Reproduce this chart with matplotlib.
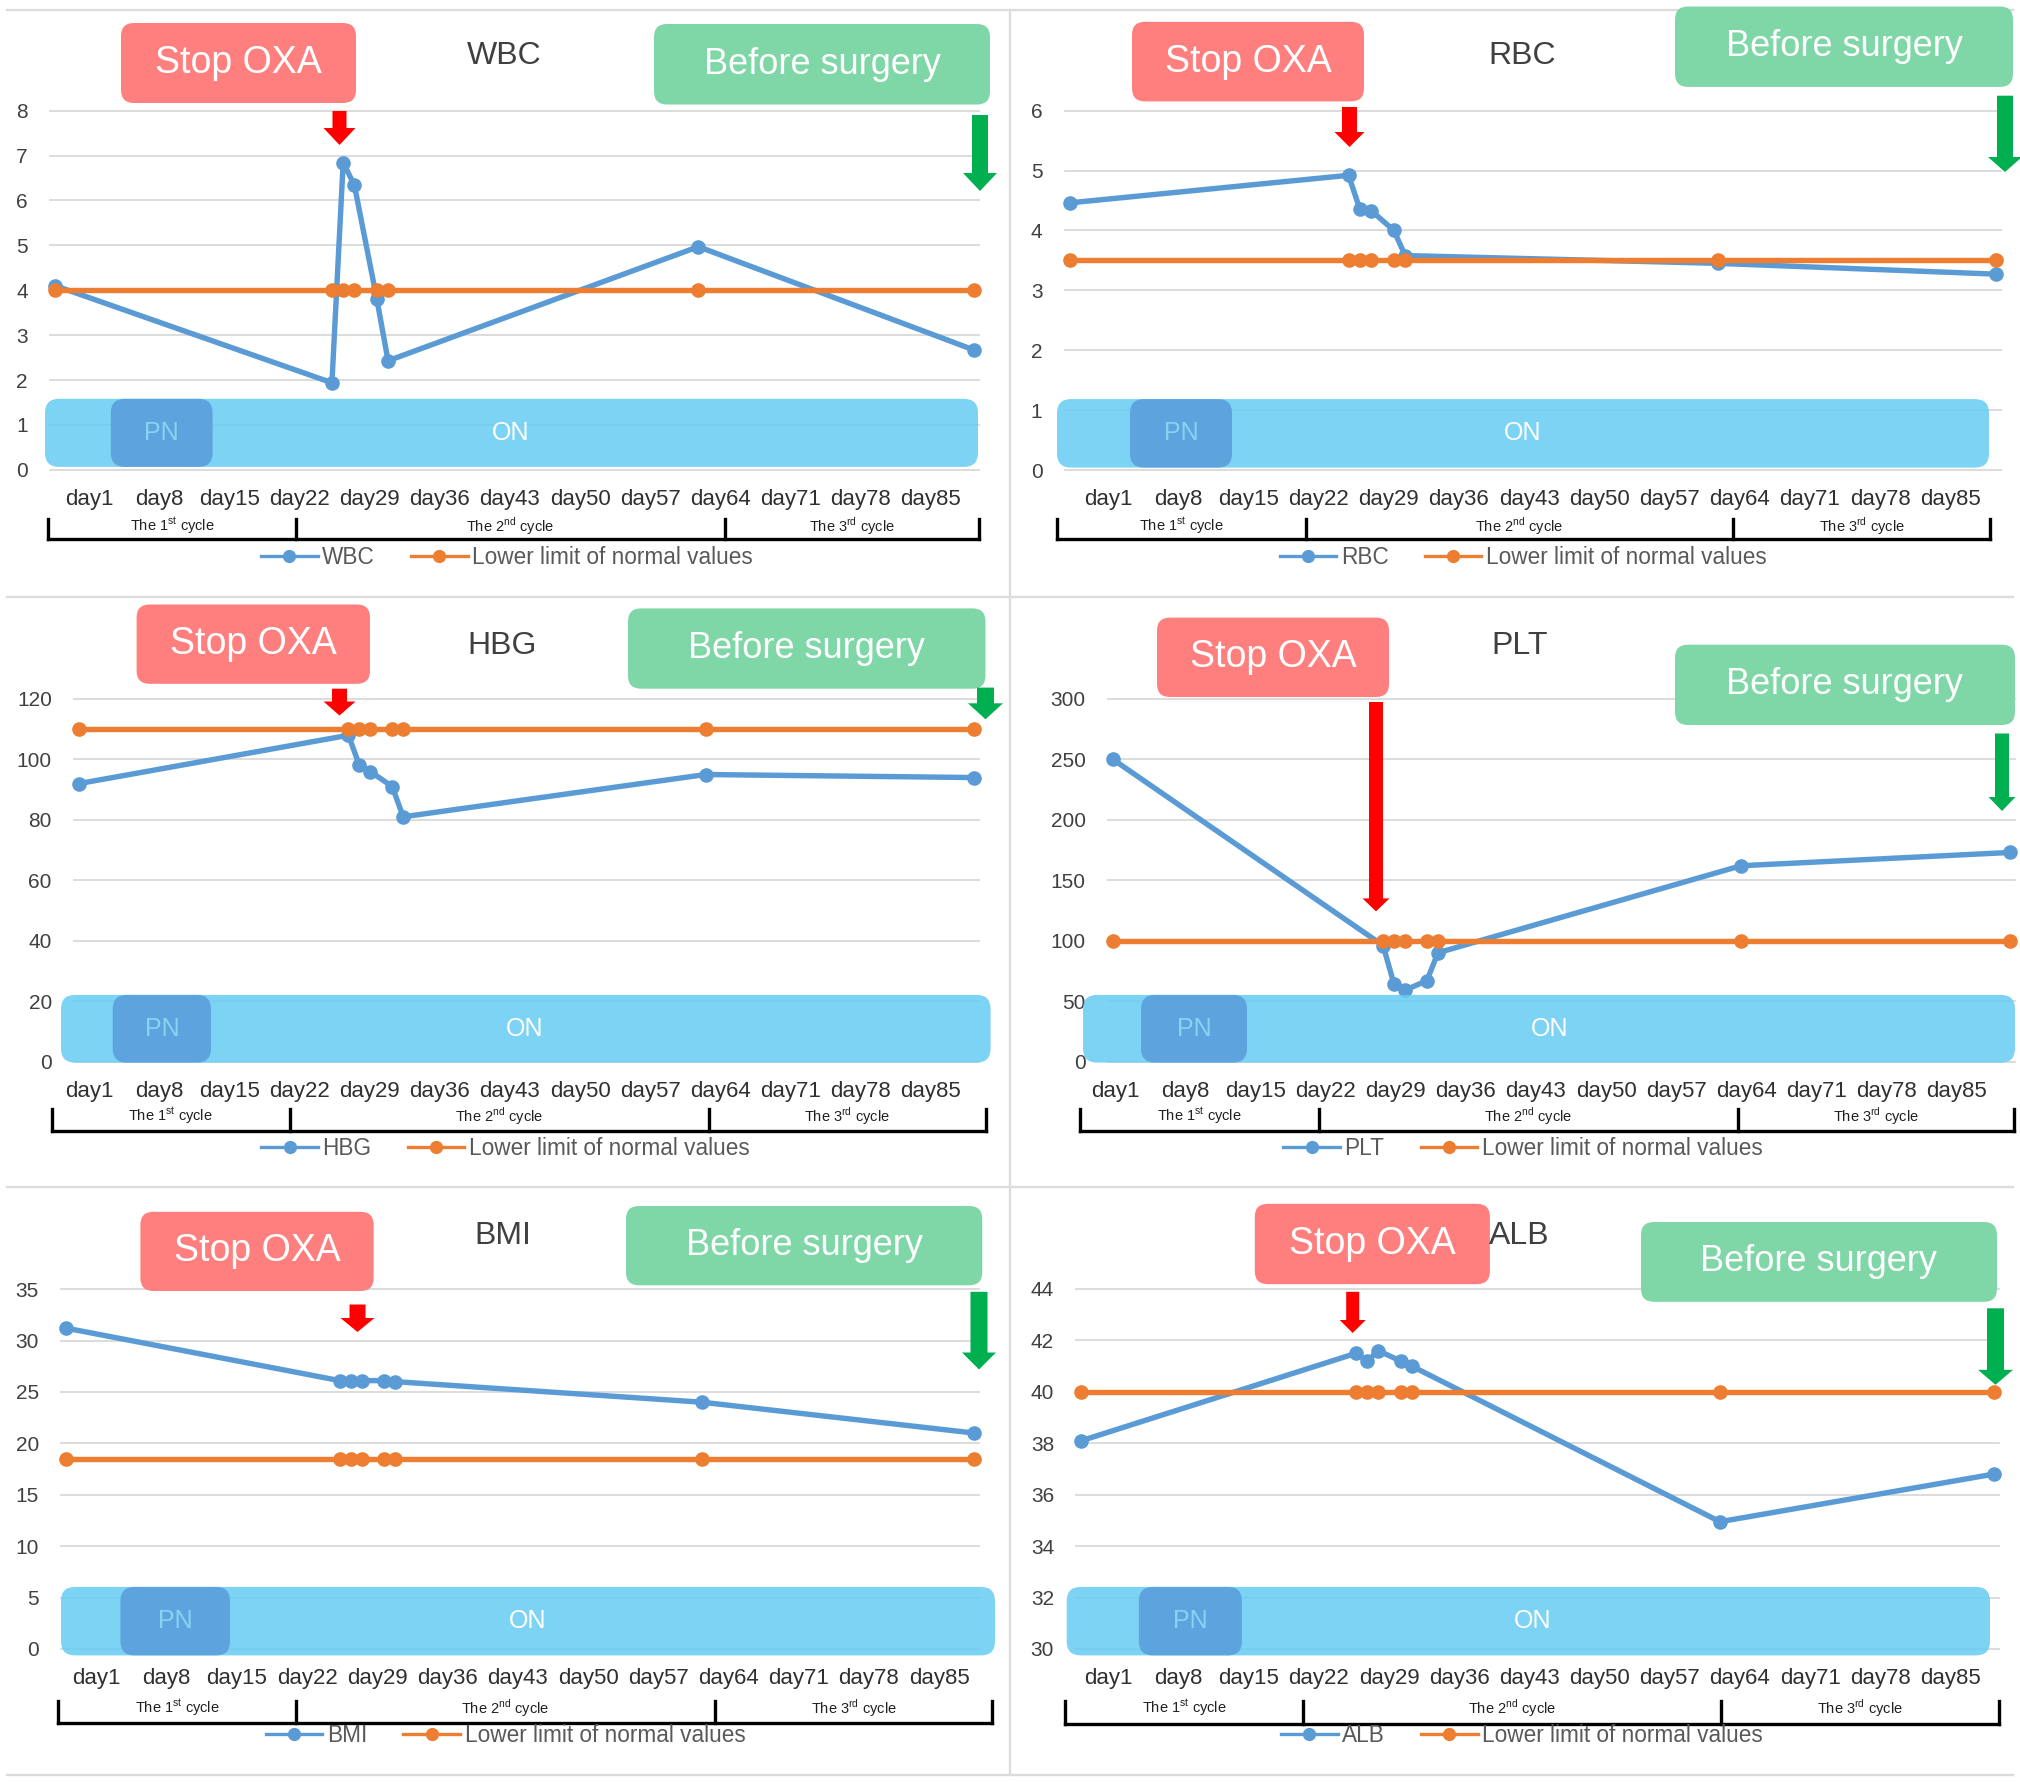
import matplotlib
matplotlib.use("Agg")
import matplotlib.pyplot as plt
from matplotlib.patches import FancyBboxPatch, Polygon
from matplotlib.lines import Line2D
from matplotlib.transforms import IdentityTransform

W, H, DPI = 2020, 1782, 100

plt.rcParams['font.family'] = ['Liberation Sans', 'DejaVu Sans']
plt.rcParams['mathtext.fontset'] = 'custom'
plt.rcParams['mathtext.rm'] = 'Liberation Sans'

# ---- data ----
days = [1, 28.1, 29.2, 30.3, 32.5, 33.6, 64, 91]
day_labels = ['day1', 'day8', 'day15', 'day22', 'day29', 'day36', 'day43',
              'day50', 'day57', 'day64', 'day71', 'day78', 'day85']
cycle_labels = [r'The 1$^{\mathrm{st}}$ cycle', r'The 2$^{\mathrm{nd}}$ cycle',
                r'The 3$^{\mathrm{rd}}$ cycle']

wbc = [4.1, 1.94, 6.84, 6.34, 3.8, 2.43, 4.97, 2.67]
wbc_low = [4, 4, 4, 4, 4, 4, 4, 4]
rbc = [4.46, 4.92, 4.35, 4.33, 4.0, 3.58, 3.45, 3.27]
rbc_low = [3.5, 3.5, 3.5, 3.5, 3.5, 3.5, 3.5, 3.5]
hbg = [92, 108, 98, 96, 91, 81, 95, 94]
hbg_low = [110, 110, 110, 110, 110, 110, 110, 110]
plt_vals = [250, 96, 64, 59, 67, 90, 162, 173]
plt_low = [100, 100, 100, 100, 100, 100, 100, 100]
bmi = [31.2, 26.1, 26.1, 26.1, 26.1, 26.0, 24.0, 21.0]
bmi_low = [18.5, 18.5, 18.5, 18.5, 18.5, 18.5, 18.5, 18.5]
alb = [38.1, 41.5, 41.2, 41.6, 41.2, 41.0, 34.95, 36.8]
alb_low = [40, 40, 40, 40, 40, 40, 40, 40]

BLUE = '#5B9BD5'
ORANGE = '#ED7D31'
GRID = '#D9D9D9'
TXT = '#404040'

# ---- layout in image pixels ----
panels = [
    dict(name='WBC', vals=wbc, low=wbc_low, ylim=(0, 8), step=1,
         ax=(50.2, 110.6, 979.1, 469.9), lab=(88.9, 930.8),
         band=(45, 978, 398.8, 466.9), pn=(110.8, 212.6), on_x=511,
         stop=(121, 356, 23, 103), before=(654, 990, 24, 104.5), title=(504, 56),
         red=(339.5, 111, 145, 14, 32, 17), green=(980, 115, 191, 16, 34, 18),
         bracket=(48.3, 296, 724.6, 979), by=(518.5, 538.5), leg=(507, 557)),
    dict(name='RBC', vals=rbc, low=rbc_low, ylim=(0, 6), step=1,
         ax=(1064.7, 110.6, 2000.7, 470), lab=(1107.9, 1950.4),
         band=(1057, 1989, 399.1, 467.6), pn=(1130, 1232), on_x=1523,
         stop=(1132, 1364, 21.8, 101.4), before=(1675, 2013, 6.5, 86.9), title=(1522, 56),
         red=(1349.5, 107, 147, 15, 30, 15), green=(2005, 95.7, 172, 16, 34, 15),
         bracket=(1057, 1306, 1733, 1990), by=(518.5, 538.8), leg=(1523, 557)),
    dict(name='HBG', vals=hbg, low=hbg_low, ylim=(0, 120), step=20,
         ax=(74, 699, 979, 1061.5), lab=(88.9, 930.8),
         band=(61, 990.6, 994.9, 1062.6), pn=(112.7, 211), on_x=525,
         stop=(136.6, 370, 604.5, 683.8), before=(628, 985.5, 608.4, 688.7), title=(502, 646),
         red=(339.5, 688.7, 715.5, 15, 32, 14), green=(985.5, 687.6, 719.3, 17, 35, 16),
         bracket=(51.5, 290, 708.5, 985.5), by=(1108.5, 1130.7), leg=(505.6, 1148.7)),
    dict(name='PLT', vals=plt_vals, low=plt_low, ylim=(0, 300), step=50,
         ax=(1108, 699, 2015, 1061.5), lab=(1115, 1956.9),
         band=(1083, 2015, 994.9, 1062.6), pn=(1141, 1247), on_x=1550,
         stop=(1157, 1389, 617.6, 697), before=(1675, 2015, 644.7, 725), title=(1520, 646),
         red=(1376, 702, 911.4, 14, 27, 13), green=(2002, 733.5, 811, 14, 27, 14),
         bracket=(1079.6, 1319, 1738, 2013.5), by=(1108.5, 1130.7), leg=(1523, 1148.7)),
    dict(name='BMI', vals=bmi, low=bmi_low, ylim=(0, 35), step=5,
         ax=(61.2, 1289.1, 979, 1648.9), lab=(96.6, 939.1),
         band=(61, 995, 1586.9, 1655.4), pn=(120.4, 230), on_x=528,
         stop=(140.4, 373.6, 1211.8, 1291), before=(626, 982.3, 1206, 1285.3), title=(502.4, 1236),
         red=(357.5, 1304.5, 1332, 16, 34, 14), green=(979, 1291.8, 1369.5, 17, 34, 17),
         bracket=(58, 296, 715, 992), by=(1700.5, 1722.7), leg=(505.6, 1735)),
    dict(name='ALB', vals=alb, low=alb_low, ylim=(30, 44), step=2,
         ax=(1076.3, 1289, 1998.7, 1649), lab=(1108.5, 1950.4),
         band=(1066.7, 1990, 1586.9, 1655.4), pn=(1138.8, 1241.9), on_x=1533,
         stop=(1254.8, 1489.9, 1203.8, 1284.2), before=(1641, 1997, 1222, 1301.8), title=(1519, 1236),
         red=(1352.7, 1291.8, 1333, 13, 26, 13), green=(1995.5, 1308.3, 1384.8, 17, 35, 15),
         bracket=(1064.8, 1303, 1720.5, 1998.7), by=(1700.5, 1723.5), leg=(1522, 1735)),
]

XLIM = (0.5, 91.5)

fig = plt.figure(figsize=(W / DPI, H / DPI), dpi=DPI)
PX = IdentityTransform()


def rbox(x0, x1, y0, y1, color, r=12, alpha=1.0, z=3):
    p = FancyBboxPatch((x0, H - y1), x1 - x0, y1 - y0,
                       boxstyle='round,pad=0,rounding_size=%g' % r,
                       transform=PX, facecolor=color, edgecolor='none',
                       alpha=alpha, zorder=z)
    fig.add_artist(p)


def ftext(x, y, s, **kw):
    fig.text(x / W, 1 - y / H, s, ha='center', va='center', **kw)


def arrow(x, y0, y1, sw, hw, hl, color):
    pts = [(x - sw / 2, y0), (x + sw / 2, y0), (x + sw / 2, y1 - hl), (x + hw / 2, y1 - hl),
           (x, y1), (x - hw / 2, y1 - hl), (x - sw / 2, y1 - hl)]
    fig.add_artist(Polygon([(px, H - py) for px, py in pts], closed=True,
                           transform=PX, facecolor=color, edgecolor='none', zorder=5))


def pline(xs, ys, **kw):
    fig.add_artist(Line2D(xs, [H - y for y in ys], transform=PX, **kw))


# panel separators
for y in (10, 596.7, 1187, 1775):
    pline([7, 2013], [y, y], color='#DCDCDC', lw=1.7, zorder=0)
pline([1010, 1010], [10, 1775], color='#DCDCDC', lw=1.7, zorder=0)

for p in panels:
    l, t, r, b = p['ax']
    ax = fig.add_axes([l / W, 1 - b / H, (r - l) / W, (b - t) / H])
    ax.set_xlim(*XLIM)
    lo, hi = p['ylim']
    ax.set_ylim(lo, hi)
    for s in ax.spines.values():
        s.set_visible(False)
    yt = list(range(lo, hi + 1, p['step']))
    ax.set_yticks(yt)
    for v in yt:
        ax.axhline(v, color=GRID, lw=1.3, clip_on=False, zorder=0.5)

    # category labels sit at their own pixel spacing
    span = XLIM[1] - XLIM[0]
    d0 = XLIM[0] + (p['lab'][0] - l) / (r - l) * span
    d1 = XLIM[0] + (p['lab'][1] - l) / (r - l) * span
    n = len(day_labels)
    ax.set_xticks([d0 + (d1 - d0) * i / (n - 1) for i in range(n)])
    ax.set_xticklabels(day_labels)
    ax.tick_params(axis='y', length=0, pad=16, labelsize=15, labelcolor=TXT)
    ax.tick_params(axis='x', length=0, pad=14, labelsize=16, labelcolor='#303030')

    ax.plot(days, p['vals'], color=BLUE, lw=3.9, marker='o', ms=9.5,
            clip_on=False, zorder=3)
    ax.plot(days, p['low'], color=ORANGE, lw=3.9, marker='o', ms=9.5,
            clip_on=False, zorder=4)

    # treatment band
    bx0, bx1, by0, by1 = p['band']
    rbox(bx0, bx1, by0, by1, '#66CCF3', r=14, alpha=0.85, z=2)
    rbox(p['pn'][0], p['pn'][1], by0, by1, '#5BA0DE', r=14, alpha=0.92, z=2.5)
    ym = (by0 + by1) / 2
    ftext((p['pn'][0] + p['pn'][1]) / 2, ym, 'PN', fontsize=18, color='#8AD2F2', zorder=6)
    ftext(p['on_x'], ym, 'ON', fontsize=18, color='white', zorder=6)

    # annotation boxes
    sx0, sx1, sy0, sy1 = p['stop']
    rbox(sx0, sx1, sy0, sy1, '#FF7F7F', r=13, z=3)
    ftext((sx0 + sx1) / 2, (sy0 + sy1) / 2, 'Stop OXA', fontsize=27, color='white', zorder=6)
    gx0, gx1, gy0, gy1 = p['before']
    rbox(gx0, gx1, gy0, gy1, '#7FD6A7', r=13, z=3)
    ftext((gx0 + gx1) / 2, (gy0 + gy1) / 2, 'Before surgery', fontsize=26, color='white', zorder=6)

    ftext(p['title'][0], p['title'][1], p['name'], fontsize=23, color=TXT)

    arrow(*p['red'], color='#FF0000')
    arrow(*p['green'], color='#00B050')

    # cycle bracket
    bxs = p['bracket']
    ytop, ybot = p['by']
    pline([bxs[0], bxs[-1]], [ybot, ybot], color='black', lw=2.4, solid_capstyle='projecting')
    for x in bxs:
        pline([x, x], [ytop, ybot], color='black', lw=2.4)
    for i in range(3):
        ftext((bxs[i] + bxs[i + 1]) / 2, ytop + 8, cycle_labels[i], fontsize=10.5, color='#202020')

    handles = [Line2D([], [], color=BLUE, lw=2.4, marker='o', ms=8.5),
               Line2D([], [], color=ORANGE, lw=2.4, marker='o', ms=8.5)]
    fig.legend(handles, [p['name'], 'Lower limit of normal values'], loc='center',
               bbox_to_anchor=(p['leg'][0] / W, 1 - p['leg'][1] / H), ncol=2,
               frameon=False, fontsize=16.3, labelcolor='#595959', handlelength=2.5,
               handletextpad=0.2, columnspacing=1.6, borderpad=0, borderaxespad=0)

fig.savefig('out.png', dpi=DPI, facecolor='white')
